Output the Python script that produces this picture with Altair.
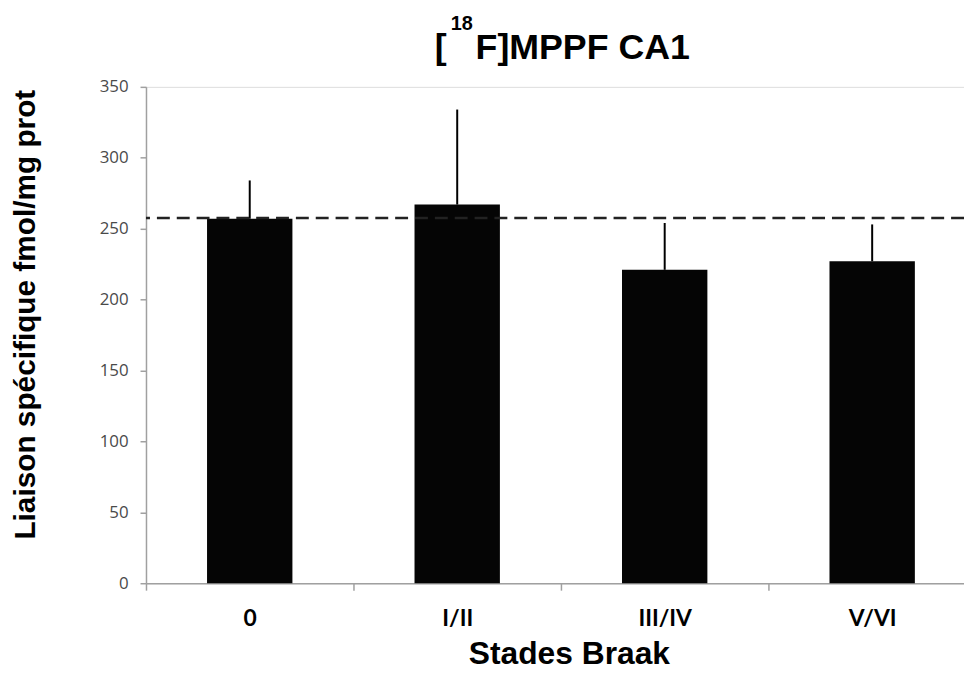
import altair as alt
import pandas as pd

# ---- data ----
stages = ["0", "I/II", "III/IV", "V/VI"]
means = [257, 267, 221, 227]
sem = [27, 67, 33, 26]
ref_level = [257.5]
title_parts = ["[", "18", "F]MPPF CA1"]

df = pd.DataFrame({"stage": stages, "mean": means, "sem": sem})
df["upper"] = df["mean"] + df["sem"]
ref_df = pd.DataFrame({"ref": ref_level})

W, H = 824, 500

xscale = alt.Scale(range=[0, 836], paddingInner=0, paddingOuter=0)
xaxis = alt.Axis(
    title="Stades Braak", titleFont="Liberation Sans", titleFontSize=32,
    titleFontWeight="bold", titleColor="black", titleX=426, titleY=81,
    titleAlign="center", titleBaseline="alphabetic",
    labelFont="Lato", labelFontSize=23, labelFontWeight="bold", labelColor="black",
    labelPadding=18, labelAngle=0, tickBand="extent", tickSize=7,
    tickColor="#a0a0a0", domainColor="#a0a0a0", domainWidth=1.5, tickWidth=1.5,
    grid=False,
)
yaxis = alt.Axis(
    title="Liaison spécifique fmol/mg prot", titleFont="Liberation Sans",
    titleFontSize=30, titleFontWeight="bold", titleColor="black",
    titleAngle=270, titleX=-112, titleY=229, titleAlign="center",
    titleBaseline="alphabetic",
    values=list(range(0, 351, 50)), labelFont="Open Sans", labelFontSize=17,
    labelColor="#4a4a4a", labelPadding=12, tickSize=6, tickColor="#a0a0a0",
    domainColor="#a0a0a0", domainWidth=1.5, tickWidth=1.5, grid=False,
)

base = alt.Chart(df)
bars = base.mark_bar(color="#050505", size=86).encode(
    x=alt.X("stage:N", sort=stages, scale=xscale, axis=xaxis),
    y=alt.Y("mean:Q", scale=alt.Scale(domain=[0, 350], nice=False), axis=yaxis),
)
err = base.mark_rule(color="black", strokeWidth=2).encode(
    x=alt.X("stage:N", sort=stages, scale=xscale),
    y="mean:Q", y2="upper:Q",
)
ref = alt.Chart(ref_df).mark_rule(
    color="#222222", strokeWidth=2.5, strokeDash=[13, 7]
).encode(y="ref:Q")

t1 = alt.Chart(pd.DataFrame({"t": [title_parts[0]]})).mark_text(
    font="Liberation Sans", fontSize=36, fontWeight="bold", color="black",
    align="left", baseline="alphabetic"
).encode(text="t:N", x=alt.value(291), y=alt.value(-28))
t2 = alt.Chart(pd.DataFrame({"t": [title_parts[1]]})).mark_text(
    font="Liberation Sans", fontSize=20, fontWeight="bold", color="black",
    align="left", baseline="alphabetic"
).encode(text="t:N", x=alt.value(307), y=alt.value(-57))
t3 = alt.Chart(pd.DataFrame({"t": [title_parts[2]]})).mark_text(
    font="Liberation Sans", fontSize=36, fontWeight="bold", color="black",
    align="left", baseline="alphabetic"
).encode(text="t:N", x=alt.value(332), y=alt.value(-28))

chart = alt.layer(bars, err, ref, t1, t2, t3).properties(
    width=W, height=H,
    autosize=alt.AutoSizeParams(type="none"),
    padding={"left": 139, "top": 77, "right": 0, "bottom": 87},
).configure_view(stroke=None).configure(background="white")

chart.save("out.html", embed_options={"renderer": "svg", "actions": False})
